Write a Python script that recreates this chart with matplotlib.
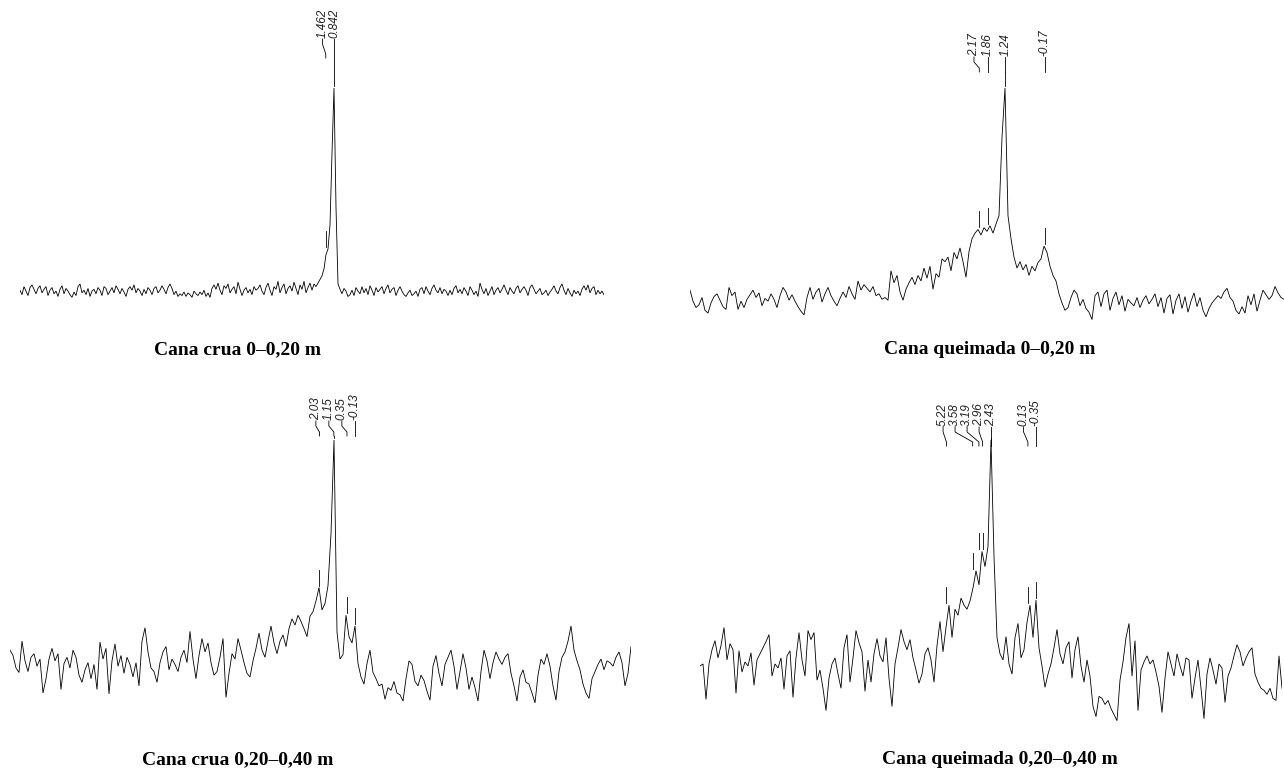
import numpy as np
import matplotlib
matplotlib.use("Agg")
import matplotlib.pyplot as plt

# ---------------- data ----------------
titles = ["Cana crua 0\u20130,20 m", "Cana queimada 0\u20130,20 m",
          "Cana crua 0,20\u20130,40 m", "Cana queimada 0,20\u20130,40 m"]

# chemical shift range (ppm) of each trace: left edge, right edge
ppm_range_1 = (23.30, -18.41)
ppm_range_2 = (12.50, -8.71)
ppm_range_3 = (20.90, -16.97)
ppm_range_4 = (20.62, -15.75)

# picked peaks (ppm)
peaks_1 = [1.462, 0.842]
peaks_2 = [2.17, 1.86, 1.24, -0.17]
peaks_3 = [2.03, 1.15, 0.35, -0.13]
peaks_4 = [5.22, 3.58, 3.19, 2.96, 2.43, 0.13, -0.35]
peak_labels_1 = ["1.462", "0.842"]
peak_labels_2 = ["2.17", "1.86", "1.24", "-0.17"]
peak_labels_3 = ["2.03", "1.15", "0.35", "-0.13"]
peak_labels_4 = ["5.22", "3.58", "3.19", "2.96", "2.43", "0.13", "-0.35"]

# intensities (arbitrary units), uniformly sampled from left to right
intensity_1 = [
    2, -3, 6, 1, -4, 5, 8, 3, -2, 4, 7, -1, 3, 6, -4, 2, 5, -2, 1, -5,
    3, 7, -2, 4, 1, -3, -6, 0, -4, 6, 9, -1, 2, -3, 4, -5, 1, 3, -2, 5,
    2, -4, 6, 4, -3, 1, 5, -1, 7, 3, -2, 4, 0, -5, 3, 6, 2, 8, -1, 4,
    1, -4, 3, -2, 5, 2, -3, 4, 6, -1, 2, 7, 3, -2, 5, 9, 4, -3, 1, -5,
    -2, -4, 0, -5, -1, -3, -6, 1, -2, -4, 0, -3, 2, -5, -1, -6, 4, 8, 3, 10,
    2, -3, 7, 4, 9, -1, 3, 6, -2, 11, 3, -4, 2, 5, -1, 3, -3, 6, 2, 4,
    8, 1, -3, 5, 10, 2, -4, 6, 3, 12, -1, 5, 9, -2, 4, 7, 1, 11, 4, -3,
    8, 3, 12, -1, 5, 10, 2, 9, 6, 10, 14, 18, 26, 42, 48, 75, 155, 228, 95, 9,
    3, -2, 4, 1, -5, -3, 2, -4, 5, 1, -2, 6, -1, 4, -3, 7, 2, -4, 5, 0,
    3, 6, -2, 4, 8, -1, 3, 5, -4, 2, 6, 1, -3, -5, -1, 2, -4, -2, 1, -5,
    3, 5, -2, 6, 1, -3, 4, 8, 2, -1, 5, -2, 3, 1, -4, 2, -3, 4, 7, -1,
    3, -2, 5, 1, -4, 6, 2, -3, 1, -5, 10, 3, -2, 4, -4, 1, 6, -3, 2, 5,
    -1, 3, 8, 2, -3, 5, 1, -2, 4, 7, -1, 3, 6, 2, -4, 5, 8, 3, -2, 1,
    4, -3, -1, 2, -4, 0, 3, 7, 1, -2, 5, 9, 2, -3, 4, -1, -5, 2, -2, 1,
    -4, 3, 7, 2, 8, -1, 4, 6, -3, 2, -2, 1, -3,
]

intensity_2 = [
    14, 2, -5, -2, 6, -8, -11, 0, 7, 10, 3, -4, -7, 17, 8, 12, -7, 2, -5, 4,
    9, 14, 6, 11, -3, 5, 2, 10, 4, -5, 8, 17, 12, 3, 9, 2, -4, -9, -13, 6,
    17, 4, 12, 16, 1, 10, 17, 8, 2, -3, 5, 12, 6, 18, 10, 4, 24, 14, 20, 16,
    12, 18, 8, 10, 4, 6, 3, 35, 22, 30, 12, 3, 15, 22, 28, 20, 30, 24, 38, 27,
    40, 15, 32, 28, 48, 45, 50, 35, 55, 48, 60, 45, 28, 56, 70, 76, 80, 74, 82, 78,
    84, 76, 86, 95, 180, 234, 95, 70, 50, 38, 45, 36, 42, 30, 40, 35, 44, 48, 62, 55,
    40, 30, 24, 10, 0, -8, -5, 6, 14, 10, -3, 4, -6, -10, -18, 8, 12, -4, 10, 14,
    -8, 5, 12, -2, 8, -9, 4, 0, -3, 6, -5, 3, 8, -1, 4, 10, -4, 6, -11, 5,
    9, -12, 3, 10, -6, 7, -10, 2, 11, -4, 6, -8, -15, -6, 0, 4, 8, 5, 12, 16,
    6, 2, -8, -12, -4, -11, 8, -2, 10, -9, 3, 14, 9, 4, 8, 18, 11, 6, 4,
]

intensity_3 = [
    20, 14, 0, -5, 30, 8, -4, 12, 16, 2, 10, -28, -12, 10, 22, 8, 16, -24, 5, 12,
    0, 20, 12, -8, -16, -2, 6, -12, 4, -24, 29, 10, 22, -29, 8, 27, 2, 14, -6, 12,
    4, -10, 6, -20, 30, 45, 18, 0, -4, -16, 6, 18, 24, -2, 10, 4, -4, 12, 20, 6,
    41, 10, -12, 14, 33, 18, 28, 6, -8, -4, 12, 33, -33, -6, 16, 10, 33, 20, 6, -6,
    -10, 8, 22, 39, 20, 12, 30, 47, 28, 16, 30, 37, 24, 44, 55, 48, 59, 52, 44, 35,
    58, 63, 75, 90, 65, 72, 92, 150, 255, 40, 10, 15, 59, 35, 28, 47, 5, -10, -18, 5,
    20, -5, -12, -20, -18, -35, -22, -25, -15, -28, -30, -37, -12, 8, 4, -15, -20, -8, -14, -26,
    -36, 2, 14, -6, -20, 4, 12, 20, 2, -24, -4, 16, 0, -24, -10, -22, -37, -4, 20, 8,
    -12, 6, 18, 10, 4, 12, 16, -6, -20, -37, -10, -2, -16, -18, -28, -39, -8, 10, 4, 16,
    2, -20, -36, -4, 12, 18, 30, 47, 20, 8, -2, -18, -28, -34, -12, -4, 4, 10, -2, 8,
    6, 2, 12, 18, 6, -20, -6, 24,
]

intensity_4 = [
    2, 4, -31, 4, 18, 27, 10, 22, 40, 8, 24, 18, -25, 17, -4, 6, 2, 15, -17, 8,
    14, 20, 26, 33, -8, 4, 0, 10, -21, 12, 17, -29, 10, 35, 8, -8, 37, 28, 35, -12,
    -2, -20, -42, -10, 4, 10, -6, -20, 20, 33, -14, 10, 37, 25, 16, -23, 8, -14, 14, 29,
    12, 6, 30, -10, -38, 4, 20, 38, 26, 18, 28, 10, -2, -15, -6, 14, 20, 8, -14, 22,
    46, 16, 40, 62, 30, 58, 52, 69, 62, 58, 66, 79, 96, 82, 115, 100, 120, 225, 110, 30,
    14, 8, 31, 4, -6, 30, 44, 10, 18, 45, 62, 30, 67, 20, 2, -19, -6, 4, 20, 38,
    14, 4, 20, 26, -10, 18, 31, 2, -14, 8, -8, -38, -48, -28, -30, -36, -32, -40, -46, -52,
    -12, 6, 30, 44, -8, 27, -42, -2, 6, 12, 4, 8, -4, -18, -44, -10, 16, 4, -8, 14,
    2, -8, 10, 8, -30, -10, 8, -20, -50, -6, 10, -2, -16, 4, 0, -34, -8, 0, 12, 23,
    16, 2, 10, 16, 20, -6, -14, -20, -22, -26, -20, -30, -32, 12, -20,
]

# ---------------- layout (pixels) ----------------
W, H = 1284, 778
fig = plt.figure(figsize=(W / 100, H / 100), dpi=100)
fig.patch.set_facecolor("white")

# x_left, x_right, y_top_region, y_bottom_region, base_px, peak_top_px,
# text_bottom_px, leader_bottom_px, title_x, title_y, label spacing
layouts = [
    (20, 604, 0, 340, 292, 88, 38, 58, 237, 350, 12),
    (690, 1284, 0, 340, 303, 88, 56, 72, 990, 350, 14),
    (10, 631, 380, 745, 668, 440, 420, 436, 238, 760, 13),
    (700, 1282, 380, 745, 668, 440, 426, 446, 1000, 760, 12),
]

datasets = [
    (ppm_range_1, intensity_1, peaks_1, peak_labels_1),
    (ppm_range_2, intensity_2, peaks_2, peak_labels_2),
    (ppm_range_3, intensity_3, peaks_3, peak_labels_3),
    (ppm_range_4, intensity_4, peaks_4, peak_labels_4),
]

lab_font = dict(family="Liberation Sans", style="italic", fontsize=8.5,
                color="#222222")

for (rng, vals, pks, plabs), lay, title in zip(datasets, layouts, titles):
    x0, x1, ry0, ry1, base, top, tbot, lbot, tx, ty, spacing = lay
    vals = np.asarray(vals, dtype=float)
    ppm = np.linspace(rng[0], rng[1], len(vals))
    ax = fig.add_axes([x0 / W, 1 - ry1 / H, (x1 - x0) / W, (ry1 - ry0) / H])
    s = (base - top) / vals.max()          # px per intensity unit
    ax.set_xlim(rng[0], rng[1])
    ax.set_ylim(-(ry1 - base) / s, (base - ry0) / s)
    ax.axis("off")
    ax.plot(ppm, vals, color="black", lw=0.6, solid_joinstyle="miter")

    def px2ppm(xp):
        return rng[0] - (xp - x0) / (x1 - x0) * (rng[0] - rng[1])

    def ppm2px(p):
        return x0 + (rng[0] - p) / (rng[0] - rng[1]) * (x1 - x0)

    def py(ypx):
        return (base - ypx) / s

    order = np.argsort(pks)[::-1]
    pk = [pks[i] for i in order]
    lb = [plabs[i] for i in order]
    ppx = [ppm2px(p) for p in pk]
    tpx = list(ppx)
    for i in range(len(tpx) - 2, -1, -1):
        tpx[i] = min(ppx[i], tpx[i + 1] - spacing)

    dppm = abs(ppm[1] - ppm[0])
    for p, lab, pp, tp in zip(pk, lb, ppx, tpx):
        ax.text(px2ppm(tp), py(tbot), lab, rotation=90, ha="center",
                va="bottom", **lab_font)
        if abs(tp - pp) < 0.8:
            lx = [pp, pp]
            ly = [lbot, tbot + 1]
        else:
            lx = [pp, pp, tp, tp]
            ly = [lbot, lbot - 4, tbot + 6, tbot + 1]
        ax.plot([px2ppm(v) for v in lx], [py(v) for v in ly],
                color="black", lw=0.6)
        win = np.abs(ppm - p) <= 1.2 * dppm
        v = vals[win].max()
        vpx = base - v * s
        mtop = vpx - 18
        if mtop < lbot + 25:
            mtop = lbot
        ax.plot([p, p], [py(vpx - 2), py(mtop)], color="black", lw=0.6)

    fig.text(tx / W, 1 - ty / H, title, ha="center", va="center",
             fontsize=14, fontweight="bold", family="Liberation Serif")

fig.savefig("out.png", dpi=100, facecolor="white")
